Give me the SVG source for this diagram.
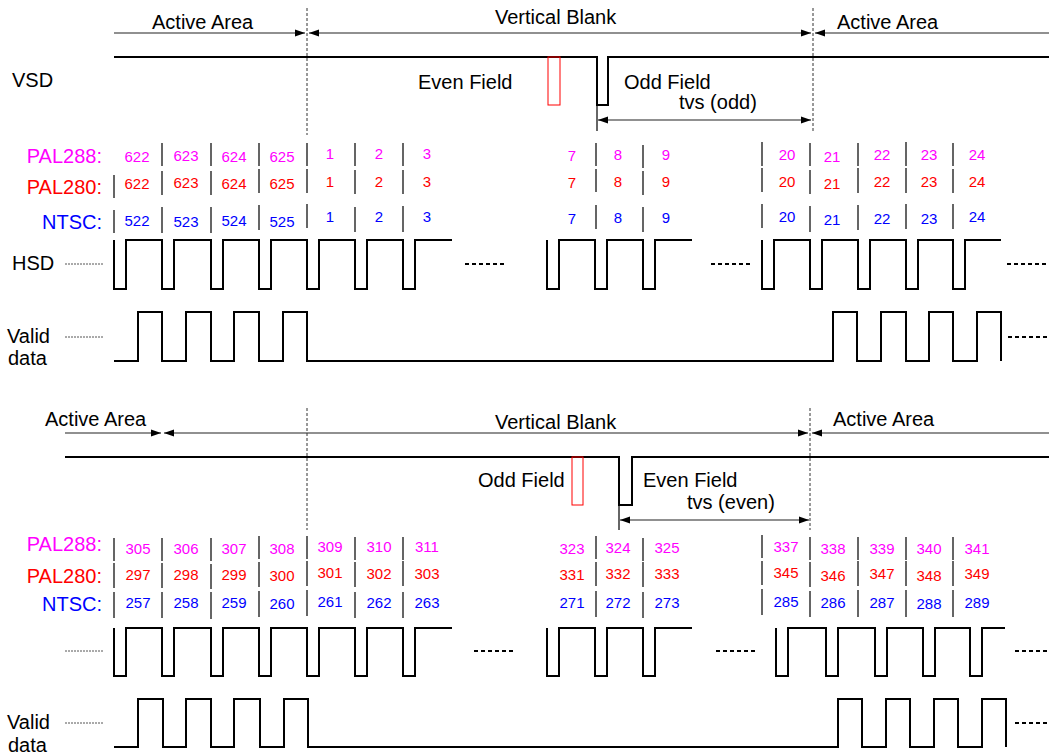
<svg xmlns="http://www.w3.org/2000/svg" width="1049" height="755" viewBox="0 0 1049 755">
<style>
text{font-family:"Liberation Sans",Arial,sans-serif;fill:#000}
.lbl{font-size:20px}
.num{font-size:15px;text-anchor:middle}
.rl{font-size:20px;text-anchor:end}
.m{fill:#FF00FF}.r{fill:#FF0000}.b{fill:#0000FF}
.wave{fill:none;stroke:#000;stroke-width:2}
.sep{stroke:#333;stroke-width:1.5}
.dash{stroke:#333;stroke-width:1;stroke-dasharray:3,2;fill:none}
.dots{stroke:#000;stroke-width:2;stroke-dasharray:4,3}
.ldash{stroke:#555;stroke-width:1;stroke-dasharray:2,1}
.arr{stroke:#222;stroke-width:1.2;fill:none}
.red{fill:none;stroke:#FF0000;stroke-width:1}
</style>
<defs>
<marker id="ah" markerUnits="userSpaceOnUse" markerWidth="10" markerHeight="8" refX="10" refY="4" orient="auto-start-reverse"><path d="M0,0.5 L10,4 L0,7.5 z" fill="#000"/></marker>
</defs>
<rect width="1049" height="755" fill="#fff"/>

<g id="connectors">
<line class="arr" x1="114" y1="33" x2="305" y2="33" marker-end="url(#ah)"/>
<line class="arr" x1="309" y1="33" x2="811" y2="33" marker-start="url(#ah)" marker-end="url(#ah)"/>
<line class="arr" x1="815" y1="33" x2="1049" y2="33" marker-start="url(#ah)"/>
<line class="arr" x1="598" y1="120" x2="811" y2="120" marker-start="url(#ah)" marker-end="url(#ah)"/>
<line class="arr" x1="65" y1="433" x2="161" y2="433" marker-end="url(#ah)"/>
<line class="arr" x1="164" y1="433" x2="808" y2="433" marker-start="url(#ah)" marker-end="url(#ah)"/>
<line class="arr" x1="812" y1="433" x2="1049" y2="433" marker-start="url(#ah)"/>
<line class="arr" x1="620" y1="520" x2="809" y2="520" marker-start="url(#ah)" marker-end="url(#ah)"/>
<line class="dash" x1="307" y1="8" x2="307" y2="135"/>
<line class="dash" x1="813" y1="8" x2="813" y2="132"/>
<line class="dash" x1="307" y1="408" x2="307" y2="530"/>
<line class="dash" x1="810" y1="408" x2="810" y2="530"/>
<line class="sep" x1="597" y1="105" x2="597" y2="131" stroke-width="1.2"/>
<line class="sep" x1="619" y1="505" x2="619" y2="530" stroke-width="1.2"/>
</g>

<g id="top-headers">
<text class="lbl" x="152" y="29">Active Area</text>
<text class="lbl" x="495" y="24">Vertical Blank</text>
<text class="lbl" x="837" y="29">Active Area</text>
</g>

<g id="top-vsd">
<text class="lbl" x="12" y="87">VSD</text>
<path class="wave" d="M114,57 H597 V105 H608 V57 H1049"/>
<rect class="red" x="548" y="57" width="12" height="48"/>
<text class="lbl" x="418" y="89">Even Field</text>
<text class="lbl" x="624" y="89">Odd Field</text>
<text class="lbl" x="679" y="109">tvs (odd)</text>
</g>

<g id="top-labels">
<text class="rl m" x="102" y="163">PAL288:</text>
<text class="rl r" x="102" y="194">PAL280:</text>
<text class="rl b" x="102" y="229">NTSC:</text>
</g>

<g id="top-separators">
<path class="sep" d="M162,143V166M211,143V166M259,143V166M307,143V166M355,143V166M403,143V166M596,143V166M643,145V168M762,142V166M810,143V166M858,143V166M906,142V166M953,143V166"/>
<path class="sep" d="M114,175V198M162,171V195M211,171V195M259,169V193M307,169V193M355,170V194M403,170V194M596,169V192M643,171V195M762,168V192M810,170V194M858,168V193M906,168V193M953,169V193"/>
<path class="sep" d="M114,210V233M162,207V233M211,207V233M259,205V230M307,204V228M355,207V232M403,206V232M596,205V229M643,207V232M762,204V228M810,206V232M858,205V230M906,204V229M953,204V229"/>
</g>

<g id="top-numbers">
<text class="num m" x="137" y="162">622</text><text class="num m" x="186" y="161">623</text><text class="num m" x="234" y="162">624</text><text class="num m" x="282" y="162">625</text><text class="num m" x="330" y="159">1</text><text class="num m" x="379" y="159">2</text><text class="num m" x="427" y="159">3</text><text class="num m" x="572" y="161">7</text><text class="num m" x="618" y="160">8</text><text class="num m" x="666" y="160">9</text><text class="num m" x="787" y="160">20</text><text class="num m" x="832" y="162">21</text><text class="num m" x="882" y="160">22</text><text class="num m" x="929" y="160">23</text><text class="num m" x="977" y="160">24</text>
<text class="num r" x="137" y="189">622</text><text class="num r" x="186" y="188">623</text><text class="num r" x="234" y="189">624</text><text class="num r" x="282" y="189">625</text><text class="num r" x="330" y="187">1</text><text class="num r" x="379" y="187">2</text><text class="num r" x="427" y="187">3</text><text class="num r" x="572" y="188">7</text><text class="num r" x="618" y="187">8</text><text class="num r" x="666" y="187">9</text><text class="num r" x="787" y="187">20</text><text class="num r" x="832" y="189">21</text><text class="num r" x="882" y="187">22</text><text class="num r" x="929" y="187">23</text><text class="num r" x="977" y="187">24</text>
<text class="num b" x="137" y="226">522</text><text class="num b" x="186" y="227">523</text><text class="num b" x="234" y="226">524</text><text class="num b" x="282" y="227">525</text><text class="num b" x="330" y="222">1</text><text class="num b" x="379" y="222">2</text><text class="num b" x="427" y="222">3</text><text class="num b" x="572" y="224">7</text><text class="num b" x="618" y="223">8</text><text class="num b" x="666" y="223">9</text><text class="num b" x="787" y="222">20</text><text class="num b" x="832" y="225">21</text><text class="num b" x="882" y="224">22</text><text class="num b" x="929" y="224">23</text><text class="num b" x="977" y="222">24</text>
</g>

<g id="top-hsd">
<text class="lbl" x="12" y="270">HSD</text>
<line class="ldash" x1="65" y1="264" x2="103" y2="264"/>
<path class="wave" d="M114,240 V289 H126 V240 H162 V289 H174 V240 H211 V289 H223 V240 H259 V289 H271 V240 H307 V289 H319 V240 H355 V289 H367 V240 H403 V289 H415 V240 H452"/>
<path class="wave" d="M547,240 V289 H559 V240 H595 V289 H607 V240 H643 V289 H655 V240 H692"/>
<path class="wave" d="M762,240 V289 H774 V240 H810 V289 H822 V240 H858 V289 H870 V240 H906 V289 H918 V240 H953 V289 H965 V240 H1001"/>
<line class="dots" x1="465" y1="264" x2="505" y2="264"/>
<line class="dots" x1="711" y1="264" x2="751" y2="264"/>
<line class="dots" x1="1007" y1="264" x2="1049" y2="264"/>
</g>

<g id="top-valid">
<text class="lbl" x="7" y="343">Valid</text>
<text class="lbl" x="8" y="365">data</text>
<line class="ldash" x1="65" y1="337" x2="103" y2="337"/>
<path class="wave" d="M114,361 H138 V312 H162 V361 H186 V312 H211 V361 H234 V312 H259 V361 H283 V312 H307 V361 H833 V312 H857 V361 H881 V312 H906 V361 H929 V312 H953 V361 H977 V312 H1001 V361"/>
<line class="dots" x1="1008" y1="337" x2="1049" y2="337"/>
</g>

<g id="bottom-headers">
<text class="lbl" x="45" y="426">Active Area</text>
<text class="lbl" x="495" y="429">Vertical Blank</text>
<text class="lbl" x="833" y="426">Active Area</text>
</g>

<g id="bottom-vsd">
<path class="wave" d="M65,457 H619 V505 H632 V457 H1049"/>
<rect class="red" x="572" y="457" width="11" height="48"/>
<text class="lbl" x="478" y="487">Odd Field</text>
<text class="lbl" x="643" y="487">Even Field</text>
<text class="lbl" x="687" y="509">tvs (even)</text>
</g>

<g id="bottom-labels">
<text class="rl m" x="102" y="551">PAL288:</text>
<text class="rl r" x="102" y="583">PAL280:</text>
<text class="rl b" x="102" y="611">NTSC:</text>
</g>

<g id="bottom-separators">
<path class="sep" d="M114,538V561M162,538V561M211,538V561M259,536V559M307,536V559M355,537V560M403,537V560M596,536V559M643,538V561M762,535V558M810,537V560M858,537V560M906,537V560M953,537V560"/>
<path class="sep" d="M114,563V588M162,563V588M211,564V589M259,562V587M307,561V586M355,562V587M403,561V586M596,562V586M643,562V587M762,561V585M810,562V587M858,561V586M906,561V586M953,561V586"/>
<path class="sep" d="M114,592V618M162,592V618M211,592V619M259,591V617M307,590V616M355,592V618M403,592V618M596,591V617M643,592V618M762,589V615M810,591V617M858,590V617M906,590V617M953,590V617"/>
</g>

<g id="bottom-numbers">
<text class="num m" x="138" y="554">305</text><text class="num m" x="186" y="554">306</text><text class="num m" x="234" y="554">307</text><text class="num m" x="282" y="554">308</text><text class="num m" x="330" y="552">309</text><text class="num m" x="379" y="552">310</text><text class="num m" x="427" y="552">311</text><text class="num m" x="572" y="554">323</text><text class="num m" x="618" y="553">324</text><text class="num m" x="667" y="553">325</text><text class="num m" x="786" y="552">337</text><text class="num m" x="833" y="554">338</text><text class="num m" x="882" y="554">339</text><text class="num m" x="929" y="554">340</text><text class="num m" x="977" y="554">341</text>
<text class="num r" x="138" y="580">297</text><text class="num r" x="186" y="580">298</text><text class="num r" x="234" y="580">299</text><text class="num r" x="282" y="581">300</text><text class="num r" x="330" y="578">301</text><text class="num r" x="379" y="579">302</text><text class="num r" x="427" y="579">303</text><text class="num r" x="572" y="580">331</text><text class="num r" x="618" y="579">332</text><text class="num r" x="667" y="579">333</text><text class="num r" x="786" y="578">345</text><text class="num r" x="833" y="581">346</text><text class="num r" x="882" y="579">347</text><text class="num r" x="929" y="581">348</text><text class="num r" x="977" y="579">349</text>
<text class="num b" x="138" y="608">257</text><text class="num b" x="186" y="608">258</text><text class="num b" x="234" y="608">259</text><text class="num b" x="282" y="609">260</text><text class="num b" x="330" y="607">261</text><text class="num b" x="379" y="608">262</text><text class="num b" x="427" y="608">263</text><text class="num b" x="572" y="608">271</text><text class="num b" x="618" y="608">272</text><text class="num b" x="667" y="608">273</text><text class="num b" x="786" y="607">285</text><text class="num b" x="833" y="608">286</text><text class="num b" x="882" y="608">287</text><text class="num b" x="929" y="609">288</text><text class="num b" x="977" y="608">289</text>
</g>

<g id="bottom-hsd">
<line class="ldash" x1="65" y1="651" x2="103" y2="651"/>
<path class="wave" d="M114,628 V676 H126 V628 H162 V676 H174 V628 H211 V676 H223 V628 H259 V676 H271 V628 H307 V676 H319 V628 H355 V676 H367 V628 H403 V676 H415 V628 H452"/>
<path class="wave" d="M547,628 V676 H559 V628 H595 V676 H607 V628 H643 V676 H655 V628 H692"/>
<path class="wave" d="M776,628 V676 H788 V628 H826 V676 H838 V628 H875 V676 H887 V628 H923 V676 H935 V628 H970 V676 H982 V628 H1005"/>
<line class="dots" x1="474" y1="651" x2="514" y2="651"/>
<line class="dots" x1="716" y1="651" x2="756" y2="651"/>
<line class="dots" x1="1015" y1="651" x2="1049" y2="651"/>
</g>

<g id="bottom-valid">
<text class="lbl" x="7" y="729">Valid</text>
<text class="lbl" x="8" y="752">data</text>
<line class="ldash" x1="65" y1="723" x2="103" y2="723"/>
<path class="wave" d="M114,747 H138 V699 H163 V747 H186 V699 H211 V747 H234 V699 H260 V747 H284 V699 H308 V747 H838 V699 H862 V747 H886 V699 H910 V747 H934 V699 H958 V747 H982 V699 H1006 V747"/>
<line class="dots" x1="1015" y1="723" x2="1049" y2="723"/>
</g>
</svg>
